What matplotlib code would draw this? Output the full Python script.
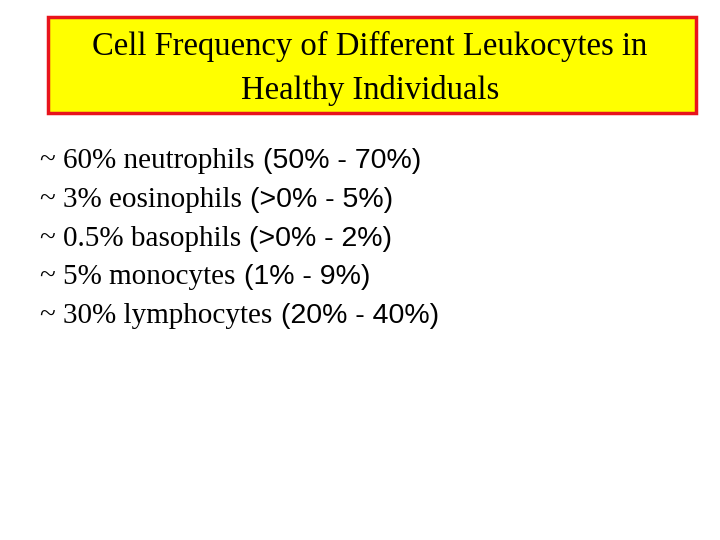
import matplotlib
matplotlib.use('Agg')
import matplotlib.pyplot as plt
from matplotlib.patches import Rectangle

title_lines = ['Cell Frequency of Different Leukocytes in', 'Healthy Individuals']
cell_types = ['neutrophils', 'eosinophils', 'basophils', 'monocytes', 'lymphocytes']
typical = ['~ 60%', '~ 3%', '~ 0.5%', '~ 5%', '~ 30%']
ranges = ['(50% - 70%)', '(>0% - 5%)', '(>0% - 2%)', '(1% - 9%)', '(20% - 40%)']

fig = plt.figure(figsize=(7.2, 5.4), dpi=100)
ax = fig.add_axes([0, 0, 1, 1])
ax.set_xlim(0, 720)
ax.set_ylim(540, 0)
ax.axis('off')

# title box
ax.add_patch(Rectangle((48, 17), 648, 96, facecolor='#ffff00', edgecolor='#e8141c', linewidth=2.5))
for i, line in enumerate(title_lines):
    ax.text(370, 46 + i * 45, line, ha='center', va='center',
            family='Liberation Serif', fontsize=23.5)

# body lines
y0, dy = 168, 38.8
for i, (pct, cell, rng) in enumerate(zip(typical, cell_types, ranges)):
    t = ax.text(40, y0 + i * dy, f'{pct} {cell}', ha='left', va='baseline',
                family='Liberation Serif', fontsize=21)
    ax.annotate(rng, xy=(1, 0), xycoords=t, xytext=(6, 0), textcoords='offset points',
                ha='left', va='bottom', family='Liberation Sans', fontsize=20.5)

fig.savefig('out.png', dpi=100)
